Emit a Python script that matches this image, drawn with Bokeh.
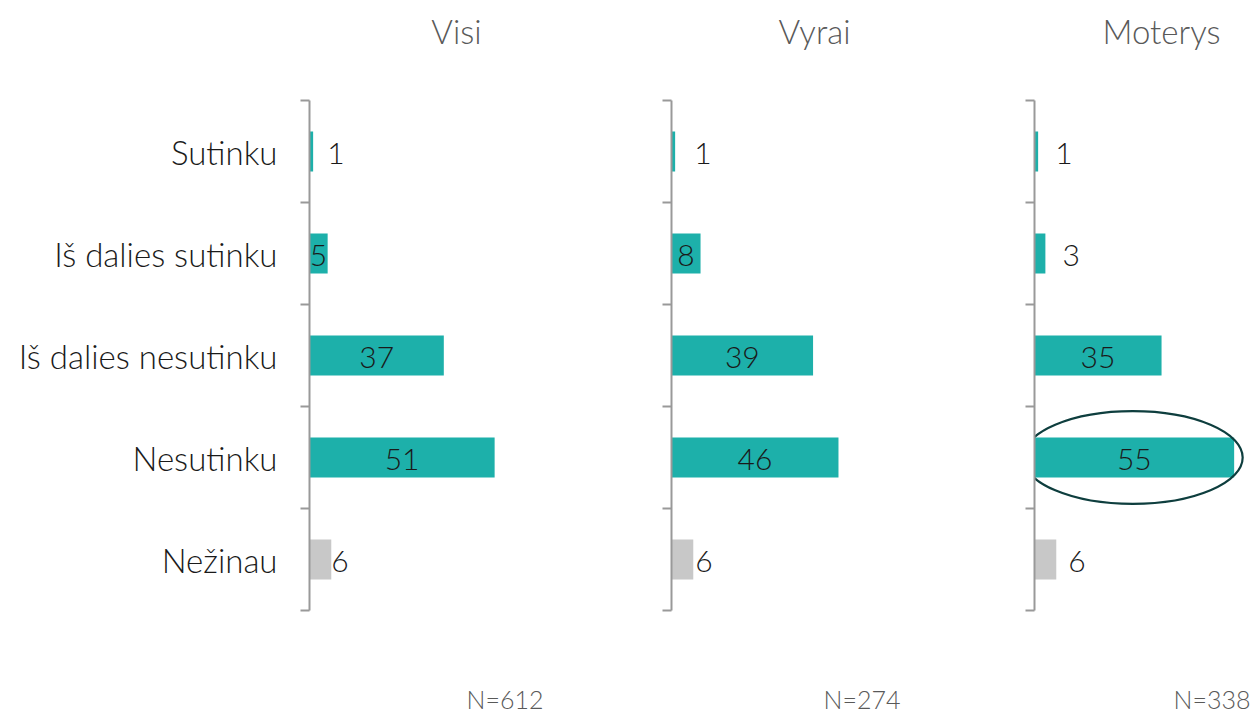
from bokeh.plotting import figure
from bokeh.layouts import row
from bokeh.models import Range1d, FixedTicker
from bokeh.embed import file_html
from bokeh.resources import INLINE
from bokeh.core.properties import value

# ---------------- data ----------------
categories = ["Sutinku", "Iš dalies sutinku", "Iš dalies nesutinku", "Nesutinku", "Nežinau"]
groups = ["Visi", "Vyrai", "Moterys"]
sample_sizes = ["N=612", "N=274", "N=338"]
visi = [1, 5, 37, 51, 6]
vyrai = [1, 8, 39, 46, 6]
moterys = [1, 3, 35, 55, 6]
dont_know = "Nežinau"
highlight_group = "Moterys"
highlight_category = "Nesutinku"

series = [visi, vyrai, moterys]

# ---------------- styling ----------------
FONT = "Lato Light"
TEAL = "#1DB0AA"
GREY_BAR = "#C8C8C8"
AXIS_GREY = "#999999"
TEXT_DARK = "#1A1A1A"
TEXT_GREY = "#595959"
SCALE = 3.63            # px per percentage point
ROW_PX = 102            # px per category band
TOP_PAD_PX = 100
HEIGHT = 719
BOTTOM_PAD_PX = HEIGHT - TOP_PAD_PX - 5 * ROW_PX

panel_style = [
    dict(width=631, border_left=309, title_px=147, n_px=234, small_off=14, grey_off=0),
    dict(width=363, border_left=40, title_px=143, n_px=229, small_off=19, grey_off=2),
    dict(width=260, border_left=40, title_px=127, n_px=216, small_off=17, grey_off=12),
]

n = len(categories)
centers = [i + 0.5 for i in range(n)]
y_start = n + BOTTOM_PAD_PX / ROW_PX
y_end = -TOP_PAD_PX / ROW_PX

figs = []
for k, (grp, nlab, vals, st) in enumerate(zip(groups, sample_sizes, series, panel_style)):
    frame_w = st["width"] - st["border_left"]
    p = figure(width=st["width"], height=HEIGHT,
               x_range=Range1d(0, frame_w / SCALE),
               y_range=Range1d(y_start, y_end),
               output_backend="svg", toolbar_location=None,
               x_axis_location=None,
               min_border_left=st["border_left"], min_border_right=0,
               min_border_top=0, min_border_bottom=0)
    p.outline_line_color = None
    p.grid.visible = False
    p.background_fill_color = "white"
    p.border_fill_color = "white"

    colors = [GREY_BAR if c == dont_know else TEAL for c in categories]
    p.hbar(y=centers, left=0, right=vals, height=0.39, color=colors, line_color=None)

    # value labels
    for c, yc, v in zip(categories, centers, vals):
        if c != dont_know and v >= 5:
            p.text(x=[v / 2], y=[yc], text=[str(v)], text_align="center",
                   text_baseline="middle", text_font=value(FONT), y_offset=2,
                   text_font_size="30px", text_color=TEXT_DARK)
        else:
            off = st["grey_off"] if c == dont_know else st["small_off"]
            p.text(x=[v], y=[yc], text=[str(v)], text_align="left", x_offset=off,
                   text_baseline="middle", text_font=value(FONT), y_offset=2,
                   text_font_size="30px", text_color=TEXT_DARK)

    # highlight ellipse
    if grp == highlight_group:
        i = categories.index(highlight_category)
        v = vals[i]
        p.ellipse(x=[v / 2 - 0.4], y=[centers[i]], width=[v * 1.1], height=[0.91],
                  fill_color=None, line_color="#0E3E3E", line_width=2.2)

    # panel title and N
    p.text(x=[0], y=[-70 / ROW_PX], text=[grp], x_offset=st["title_px"],
           text_align="center", text_baseline="middle", text_font=value(FONT),
           text_font_size="33px", text_color=TEXT_GREY)
    p.text(x=[0], y=[n + 88 / ROW_PX], text=[nlab], x_offset=st["n_px"],
           text_align="right", text_baseline="middle", text_font=value(FONT),
           text_font_size="25px", text_color=TEXT_GREY)

    ax = p.yaxis[0]
    ax.ticker = FixedTicker(ticks=centers, minor_ticks=[float(i) for i in range(n + 1)])
    ax.bounds = (0, n)
    ax.axis_line_color = AXIS_GREY
    ax.axis_line_width = 2
    ax.major_tick_line_color = None
    ax.major_tick_out = 0
    ax.major_tick_in = 0
    ax.minor_tick_line_color = AXIS_GREY
    ax.minor_tick_line_width = 2
    ax.minor_tick_out = 9
    ax.minor_tick_in = 0
    if k == 0:
        ax.major_label_overrides = {yc: c for yc, c in zip(centers, categories)}
        ax.major_label_standoff = 23
        ax.major_label_text_font = FONT
        ax.major_label_text_font_size = "33px"
        ax.major_label_text_color = TEXT_DARK
    else:
        ax.major_label_overrides = {yc: "" for yc in centers}
        ax.major_label_standoff = 0
        ax.major_label_text_font_size = "1px"
    figs.append(p)

layout = row(*figs, spacing=0)
open("out.html", "w").write(file_html(layout, INLINE))
